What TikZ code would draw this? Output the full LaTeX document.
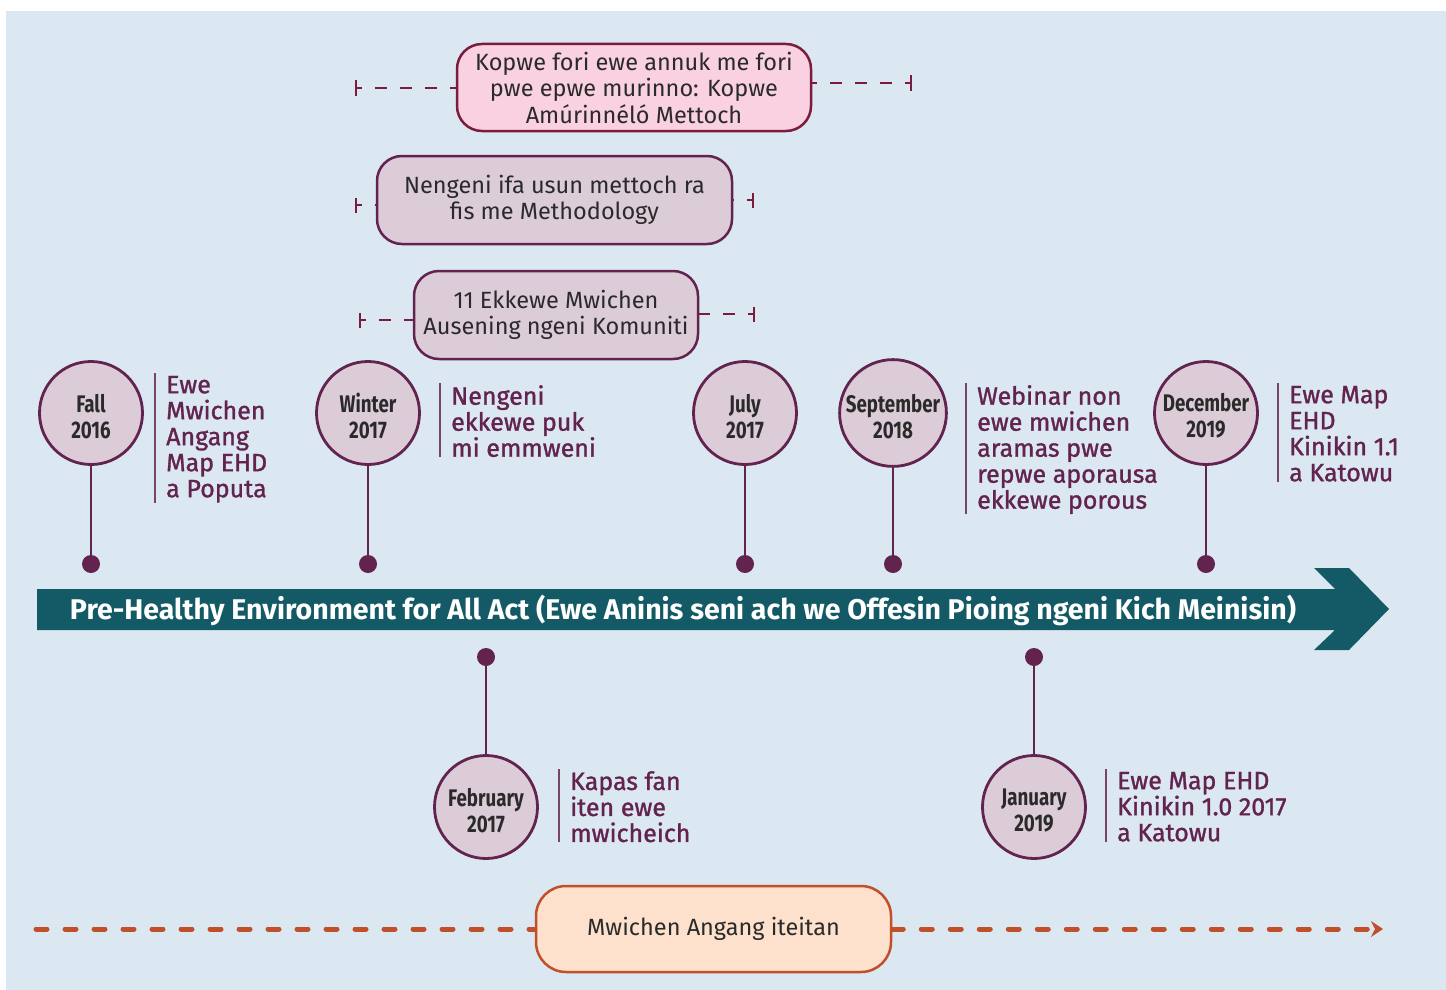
\documentclass[tikz,border=0pt]{standalone}
\usepackage{fontspec}
\setmainfont{Fira Sans}
\newfontfamily\labfont{Fira Sans}[FakeBold=1.2]
\newfontfamily\circfont{Fira Sans}[FakeStretch=0.78]
\usetikzlibrary{arrows.meta}
\definecolor{cBg}{HTML}{DCE8F1}
\definecolor{cTeal}{HTML}{145A66}
\definecolor{cPur}{HTML}{62234F}
\definecolor{cMauve}{HTML}{DCCCD8}
\definecolor{cPink}{HTML}{F9D1E1}
\definecolor{cMar}{HTML}{7B1C3E}
\definecolor{cOrFill}{HTML}{FDE1CD}
\definecolor{cOr}{HTML}{C0502A}
\definecolor{cDark}{HTML}{2A2A2A}
\newcommand\myst{\rule{0pt}{18pt}}
\newcommand\cst{\rule{0pt}{24.5pt}}
\begin{document}
\begin{tikzpicture}[x=1pt,y=-1pt,
  circ/.style={circle, draw=cPur, fill=cMauve, line width=2.8pt, minimum size=103pt, inner sep=0pt, align=center, font=\circfont\bfseries\fontsize{24}{26}\selectfont, text=cDark},
  dotn/.style={circle, fill=cPur, minimum size=18pt, inner sep=0pt},
  stem/.style={draw=cPur, line width=2.5pt},
  lab/.style={anchor=north west, inner sep=0pt, align=left, font=\labfont\fontsize{25}{26}\selectfont, text=cPur},
  labline/.style={draw=cPur!85, line width=1.6pt},
  tbox/.style={rounded corners=25pt, line width=2.5pt, align=center, font=\fontsize{23.5}{26.5}\selectfont, text=cDark, inner sep=0pt},
  dl/.style={draw=cMar, line width=2.4pt, dash pattern=on 12pt off 13pt, dash phase=7pt},
  ol/.style={draw=cOr, line width=5pt, line cap=round, dash pattern=on 11pt off 18pt}
]
\useasboundingbox (0,0) rectangle (1446,990);
\fill[cBg] (6,11) rectangle (1446,990);

% main arrow
\fill[cTeal] (37,589) -- (1335,589) -- (1314,568) -- (1349,568) -- (1389,609) -- (1349,650) -- (1314,650) -- (1335,630) -- (37,630) -- cycle;
\node[font=\bfseries\fontsize{28.5}{30}\selectfont, text=white] (bar) at (683,610) {Pre-Healthy Environment for All Act (Ewe Aninis seni ach we Offesin Pioing ngeni Kich Meinisin)};

% top boxes
\node[tbox, draw=cMar, fill=cPink, minimum width=354pt, minimum height=87pt] (pink) at (634,87.5) {Kopwe fori ewe annuk me fori\\pwe epwe murinno: Kopwe\\Amúrinnéló Mettoch};
\node[tbox, draw=cPur, fill=cMauve, minimum width=355pt, minimum height=88pt] (meth) at (554.5,200) {Nengeni ifa usun mettoch ra\\fis me Methodology};
\node[tbox, draw=cPur, fill=cMauve, minimum width=284pt, minimum height=88pt] (eleven) at (556,315) {11 Ekkewe Mwichen\\Ausening ngeni Komuniti};

\coordinate (pL) at (355,88);
\coordinate (pR) at (912,83);
\coordinate (mL) at (355,205);
\coordinate (mR) at (754,200);
\coordinate (eL) at (359,320);
\coordinate (eR) at (755,314);
\draw[dl, {Bar[width=15pt]}-] (pL) -- (pink.west |- pL);
\draw[dl, {Bar[width=15pt]}-] (pR) -- (pink.east |- pR);
\draw[dl, {Bar[width=15pt]}-] (mL) -- (meth.west |- mL);
\draw[dl, {Bar[width=15pt]}-] (mR) -- (meth.east |- mR);
\draw[dl, {Bar[width=15pt]}-] (eL) -- (eleven.west |- eL);
\draw[dl, {Bar[width=15pt]}-] (eR) -- (eleven.east |- eR);

% upper milestones
\node[dotn] (d1) at (91,564) {};
\node[dotn] (d2) at (368,564) {};
\node[dotn] (d3) at (745,564) {};
\node[dotn] (d4) at (893,564) {};
\node[dotn] (d5) at (1206,564) {};
\draw[stem] (91,413) -- (d1.center);
\draw[stem] (368,413) -- (d2.center);
\draw[stem] (745,413) -- (d3.center);
\draw[stem] (893,413) -- (d4.center);
\draw[stem] (1206,413) -- (d5.center);
\node[circ] (c1) at (91,413) {\cst Fall\\2016};
\node[circ] (c2) at (368,413) {\cst Winter\\2017};
\node[circ] (c3) at (745,413) {\cst July\\2017};
\node[circ] (c4) at (893,413) {\cst September\\2018};
\node[circ] (c5) at (1206,413) {\cst December\\2019};

% lower milestones
\node[dotn] (d6) at (486,657) {};
\node[dotn] (d7) at (1034,657) {};
\draw[stem] (d6.center) -- (486,807);
\draw[stem] (d7.center) -- (1034,807);
\node[circ] (c6) at (486,807) {\cst February\\2017};
\node[circ] (c7) at (1034,807) {\cst January\\2019};

% labels
\node[lab] (l1) at (166,375) {\myst Ewe\\Mwichen\\Angang\\Map EHD\\a Poputa};
\node[lab] (l2) at (451,385) {\myst Nengeni\\ekkewe puk\\mi emmweni};
\node[lab] (l4) at (977,385) {\myst Webinar non\\ewe mwichen\\aramas pwe\\repwe aporausa\\ekkewe porous};
\node[lab] (l5) at (1289,385) {\myst Ewe Map\\EHD\\Kinikin 1.1\\a Katowu};
\node[lab] (l6) at (570,771) {\myst Kapas fan\\iten ewe\\mwicheich};
\node[lab] (l7) at (1117,771) {\myst Ewe Map EHD\\Kinikin 1.0 2017\\a Katowu};
\foreach \l in {l1,l2,l4,l5,l6,l7}{
  \draw[labline] ([shift={(-11,-2)}]\l.north west) -- ([xshift=-11]\l.south west);
}

% bottom
\node[tbox, draw=cOr, fill=cOrFill, rounded corners=30pt, minimum width=355pt, minimum height=86pt] (orange) at (713.5,929) {Mwichen Angang iteitan};
\coordinate (oL) at (36,929);
\coordinate (oR) at (1383,929);
\draw[ol] (oL) -- (orange.west);
\draw[ol, -{Stealth[length=12pt,width=16pt,inset=4pt]}] (orange.east) -- (oR);
\end{tikzpicture}
\end{document}
